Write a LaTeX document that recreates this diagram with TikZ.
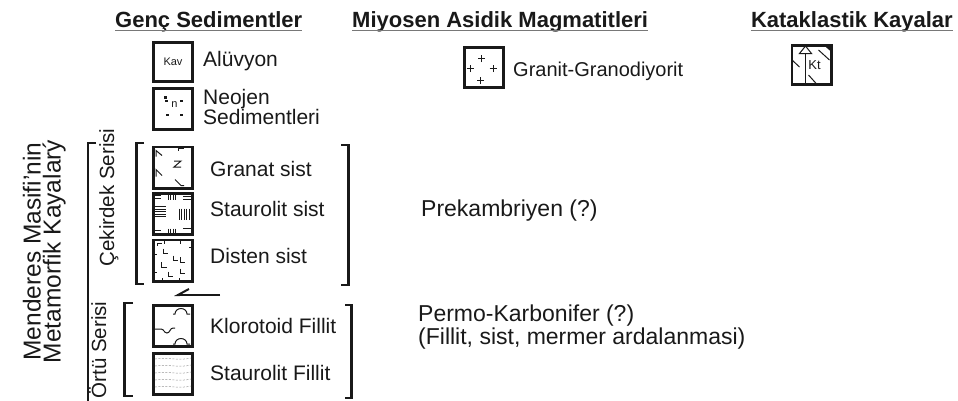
\documentclass[tikz,border=0pt]{standalone}
\usepackage{fontspec}
\setmainfont{Liberation Sans}
\usetikzlibrary{arrows.meta,positioning,calc}
\definecolor{lineCol}{RGB}{25,25,25}
\definecolor{ulCol}{RGB}{120,120,120}
\definecolor{fadeCol}{RGB}{150,150,150}
\tikzset{
  legbox/.style={draw=lineCol,line width=2.6pt,minimum width=39.4pt,
                 minimum height=41.4pt,inner sep=0pt},
  lbl/.style={anchor=base west,inner sep=0pt,text=lineCol,
              font=\fontsize{21}{24}\selectfont},
  age/.style={lbl,font=\fontsize{23}{23}\selectfont},
  vlbl/.style={anchor=base,inner sep=0pt,rotate=90,text=lineCol},
  hdr/.style={anchor=base west,inner sep=0pt,text=lineCol,
              font=\bfseries\fontsize{22}{26}\selectfont},
  ul/.style={ulCol,line width=1.6pt},
  brk/.style={lineCol,line width=2.6pt},
  sym/.style={lineCol,line width=1pt},
  faint/.style={fadeCol,line width=0.5pt,dash pattern=on 2pt off 1.5pt},
  harp/.style={lineCol,line width=2pt,-{Straight Barb[right,length=11pt,width=12pt]}},
  tiny/.style={inner sep=0pt,text=lineCol,font=\fontsize{11}{11}\selectfont},
}

\begin{document}
\begin{tikzpicture}[x=1pt,y=1pt]
  \useasboundingbox (0,0) rectangle (958,-400);
  % --- headers ---
  \node[hdr] (hGenc) at (115,-27) {Genç Sedimentler};
  \node[hdr] (hMiyo) at (352,-27) {Miyosen Asidik Magmatitleri};
  \node[hdr,anchor=base east] (hKata) at (953,-27) {Kataklastik Kayalar};
  \foreach \h in {hGenc,hMiyo,hKata}
    \draw[ul] ([yshift=-3.5pt]\h.base west) -- ([yshift=-3.5pt]\h.base east);

  % --- side titles ---
  \node[vlbl,font=\fontsize{24.5}{24}\selectfont] (tMen) at (40.5,-251.5) {Menderes Masifi'nin};
  \node[vlbl,font=\fontsize{24.5}{24}\selectfont] (tMet) at (60.5,-251.5) {Metamorfik Kayalarý};
  \node[vlbl,font=\fontsize{20.5}{24}\selectfont] (tCek) at (114,-197.5) {Çekirdek Serisi};
  \node[vlbl,font=\fontsize{20.5}{24}\selectfont] (tOrt) at (106,-350) {Örtü Serisi};

  % --- brackets ---
  \draw[brk] (96,-143) -- (88,-143) -- (88,-404);
  \draw[brk] (144,-143) -- (136.5,-143) -- (136.5,-284) -- (144,-284);
  \draw[brk] (341,-145) -- (348.5,-145) -- (348.5,-285) -- (341,-285);
  \draw[brk] (133,-303) -- (124.5,-303) -- (124.5,-396) -- (133,-396);
  \draw[brk] (345,-305) -- (351.5,-305) -- (351.5,-398) -- (345,-398);

  % --- genc sedimentler ---
  \node[legbox,minimum height=39.4pt] (kav) at (173,-62) {};
  \node[tiny] (kavT) at (kav.center) {Kav};
  \node[lbl] (tKav) at (203,-66.5) {Alüvyon};
  \node[legbox] (neo) at (173,-109) {};
  \begin{scope}[shift={(neo.center)}]
    \foreach \p in {(-6.3,8),(8.7,8),(-5.7,-6),(8.7,-6),(-7.5,11.5)}
      \fill[lineCol] \p ++(-1.3,-1.3) rectangle ++(2.6,2.6);
    \node[tiny] (neoN) at (1.5,4) {n};
  \end{scope}
  \node[lbl,align=left,font=\fontsize{21}{20}\selectfont,anchor=west] (tNeo) at (203,-106.5) {Neojen\\Sedimentleri};

  % --- cekirdek serisi ---
  \node[legbox] (gra) at (173,-167.5) {};
  \begin{scope}[shift={(gra.center)}]
    \draw[sym] (-17,11) -- (-17,17) -- (-11,12);
    \draw[sym] (5,17) -- (5,19.5) -- (11,19.5);
    \draw[sym] (1,6.5) -- (8,6.5) -- (1,0.5) -- (8,0.5);
    \draw[sym] (-17,-9) -- (-17,-2) -- (-11,-8);
    \draw[sym] (2,-12) -- (8,-18) -- (11,-18);
  \end{scope}
  \node[lbl] (tGra) at (210,-176) {Granat sist};

  \node[legbox] (stn) at (173,-214) {};
  \begin{scope}[shift={(stn.center)}]
    \foreach \y in {18.5,15.5} \draw[sym] (-18,\y) -- (-12,\y);
    \foreach \x in {-5,-2.5,0,2.5} \draw[sym] (\x,20.5) -- (\x,14);
    \foreach \y in {17.5,14.5} \draw[sym] (10,\y) -- (18,\y);
    \foreach \y in {7.5,5,2.5,0,-2.5} \draw[sym] (-18,\y) -- (-7,\y);
    \foreach \x in {6,8.5,11,13.5,16} \draw[sym] (\x,5.5) -- (\x,-6);
    \draw[sym] (-18,-16) -- (-12,-16);
    \foreach \x in {-5,-2.5,0,2.5} \draw[sym] (\x,-14.5) -- (\x,-20.5);
    \draw[sym] (10,-14.5) -- (18,-14.5);
  \end{scope}
  \node[lbl] (tStn) at (210,-216.7) {Staurolit sist};

  \node[legbox] (dis) at (173,-260.5) {};
  \begin{scope}[shift={(dis.center)}]
    \foreach \p in {(-10,12),(0,5),(-11.5,-1.5),(7,3.5),(-5,-11),(7,-8)}
      \draw[sym] \p -- ++(0,-5) -- ++(5,0);
    \draw[sym] (-16,15) -- (-16,17) -- (-11,17);
    \foreach \x in {-9,7} \draw[sym] (\x,20.5) -- (\x,17);
    \foreach \x in {-11,6} \draw[sym] (\x,-20.5) -- (\x,-17);
    \foreach \y in {6,-12} \draw[sym] (-20,\y) -- (-16.5,\y);
    \draw[sym] (20,13) -- (16,13);
  \end{scope}
  \node[lbl] (tDis) at (210,-263.3) {Disten sist};

  % --- ortu serisi ---
  \coordinate (arrE) at (220,-295);
  \coordinate (arrW) at (174,-295);
  \draw[harp] (arrE) -- (arrW);

  \node[legbox] (klo) at (173,-326) {};
  \begin{scope}[shift={(klo.center)}]
    \draw[sym] (0,12) -- (2,12) to[out=90,in=180] (8,17.5) to[out=0,in=90] (14,12) -- (17,12);
    \draw[sym] (-18,-3) -- (-12,-3) to[out=0,in=180] (-6,-7) to[out=0,in=180] (0,-2) -- (2,-2);
    \draw[sym] (0,-18) -- (2,-18) to[out=90,in=180] (8,-12.5) to[out=0,in=90] (14,-18) -- (17,-18);
  \end{scope}
  \node[lbl] (tKlo) at (210,-333) {Klorotoid Fillit};

  \node[legbox] (stf) at (173,-374) {};
  \begin{scope}[shift={(stf.center)}]
    \foreach \y in {15,8,1,-6,-13}
      \draw[faint] (-18,\y) .. controls (-6,\y+2) and (6,\y-2) .. (18,\y+1);
  \end{scope}
  \node[lbl] (tStf) at (210,-380) {Staurolit Fillit};

  % --- ages ---
  \node[age] (tPre) at (421,-216.7) {Prekambriyen (?)};
  \node[age,align=left] (tPer) at (418,-344) {Permo-Karbonifer (?)\\(Fillit, sist, mermer ardalanmasi)};

  % --- miyosen ---
  \node[legbox,minimum height=40.4pt] (gnt) at (484,-67.5) {};
  \begin{scope}[shift={(gnt.center)}]
    \foreach \p in {(-2.5,9),(-14,-1),(9,-1),(-3.5,-13)}
      \draw[sym] \p +(-3.5,0) -- +(3.5,0) \p +(0,-3.5) -- +(0,3.5);
    \draw[sym] (-19,16) -- (-19,19);
    \draw[sym] (19.5,-4) -- (19.5,-8) (19.5,-14) -- (19.5,-18);
  \end{scope}
  \node[lbl,font=\fontsize{20}{24}\selectfont] (tGnt) at (513,-76) {Granit-Granodiyorit};

  % --- kataklastik ---
  \node[legbox,minimum height=39.4pt] (kt) at (811.5,-65) {};
  \begin{scope}[shift={(kt.center)}]
    \fill[lineCol] (20,20) -- (12,20) -- (20,13) -- cycle;
    \draw[sym] (-12,11.5) -- (-6,19) -- (0,11.5) -- cycle;
    \draw[sym] (-6,11.5) -- (-6,-20);
    \draw[sym] (-19.5,5) -- (-12,-2);
    \draw[sym] (-3,-10) -- (6,-20);
    \draw[sym] (7,15) -- (18,5);
    \node[tiny,font=\fontsize{13}{13}\selectfont] (ktT) at (3,0) {Kt};
  \end{scope}
\end{tikzpicture}
\end{document}
